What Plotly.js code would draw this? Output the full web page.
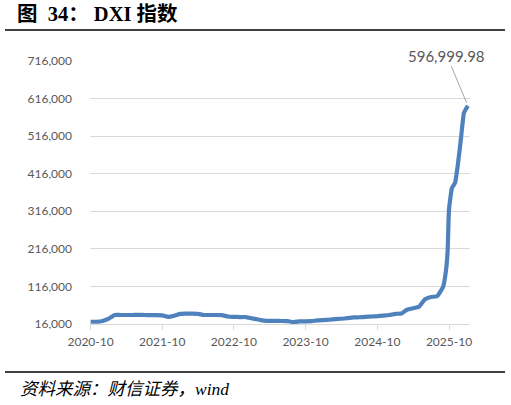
<!DOCTYPE html>
<html>
<head>
<meta charset="utf-8">
<script src="https://cdn.plot.ly/plotly-3.0.1.min.js"></script>
<style>html,body{margin:0;padding:0;background:#fff;}#chart{width:511px;height:405px;}</style>
</head>
<body>
<div id="chart"></div>
<script>
const dates = [
  "2020-10-01","2020-11-01","2020-12-01","2021-01-01","2021-02-01","2021-03-01","2021-04-01","2021-05-01",
  "2021-06-01","2021-07-01","2021-08-01","2021-09-01","2021-10-01","2021-11-01","2021-12-01","2022-01-01",
  "2022-02-01","2022-03-01","2022-04-01","2022-05-01","2022-06-01","2022-07-01","2022-08-01","2022-09-01",
  "2022-10-01","2022-11-01","2022-12-01","2023-01-01","2023-02-01","2023-03-01","2023-04-01","2023-05-01",
  "2023-06-01","2023-07-01","2023-08-01","2023-09-01","2023-10-01","2023-11-01","2023-12-01","2024-01-01",
  "2024-02-01","2024-03-01","2024-04-01","2024-05-01","2024-06-01","2024-07-01","2024-08-01","2024-09-01",
  "2024-10-01","2024-11-01","2024-12-01","2025-01-01","2025-02-01","2025-03-01","2025-04-01","2025-05-01",
  "2025-06-01","2025-07-01","2025-08-01","2025-09-01","2025-09-16","2025-09-24","2025-10-01","2025-10-16",
  "2025-11-01","2025-11-16","2025-12-01","2025-12-16","2025-12-26","2026-01-05"
];
const dxi = [
  22000,22000,24000,30000,40000,40000,40000,40000,
  40500,40000,39500,39500,39000,35000,38000,43000,
  43500,43500,43000,40000,40000,40000,39500,36000,
  35000,34500,34500,31000,28000,25000,24500,24500,
  24000,23500,21000,23000,23000,23500,25500,26500,
  27500,29000,30000,31500,33500,34000,35000,36000,
  37000,38500,40000,43000,44000,54000,58000,62000,
  82000,88000,90000,115000,160000,210000,320000,378000,
  392000,444000,510000,578000,588000,596999.98
];
const tickDates = ["2020-10-01","2021-10-01","2022-10-01","2023-10-01","2024-10-01","2025-10-01"];
const tickLabels = ["2020-10","2021-10","2022-10","2023-10","2024-10","2025-10"];
const yTicks = [16000,116000,216000,316000,416000,516000,616000,716000];
const titleText = "图&nbsp;&nbsp;34：&nbsp;DXI 指数";
const sourceText = "资料来源：财信证券，wind";
const lastLabel = "596,999.98";

const W = 511, H = 405, L = 90, R = 41, T = 61, B = 81;
const pw = W - L - R, ph = H - T - B;
const px = x => (x - L) / pw;
const py = y => (H - B - y) / ph;

const trace = {
  x: dates, y: dxi, type: "scatter", mode: "lines",
  line: {color: "#4F81BD", width: 4.2, shape: "spline", smoothing: 0.4},
  hoverinfo: "none"
};

const layout = {
  width: W, height: H,
  margin: {l: L, r: R, t: T, b: B},
  paper_bgcolor: "#fff", plot_bgcolor: "#fff",
  showlegend: false,
  font: {family: "Lato, 'Liberation Sans', 'Noto Sans CJK SC', sans-serif", color: "#595959", size: 12},
  xaxis: {
    type: "date",
    range: ["2020-09-28", "2026-01-16"],
    tickvals: tickDates, ticktext: tickLabels,
    showgrid: false, zeroline: false,
    showline: true, linecolor: "#d9d9d9", linewidth: 1,
    ticks: "outside", ticklen: 5, tickcolor: "#d9d9d9",
    ticklabelstandoff: 2,
    tickfont: {size: 12, color: "#595959"}
  },
  yaxis: {
    range: [16000, 716000],
    tickvals: yTicks, tickformat: ",.0f",
    showgrid: true, gridcolor: "#d9d9d9", gridwidth: 1,
    zeroline: false, showline: false, ticks: "",
    ticklabelstandoff: 17,
    tickfont: {size: 12, color: "#595959"}
  },
  shapes: [
    {type: "line", xref: "paper", yref: "paper", x0: px(5), x1: px(505), y0: py(30), y1: py(30),
     line: {color: "#000", width: 1.5}},
    {type: "line", xref: "paper", yref: "paper", x0: px(5), x1: px(505), y0: py(372), y1: py(372),
     line: {color: "#000", width: 1.5}}
  ],
  annotations: [
    {xref: "paper", yref: "paper", x: px(15), y: py(14), xanchor: "left", yanchor: "middle",
     text: "<b>" + titleText + "</b>", showarrow: false,
     font: {family: "'Liberation Serif', 'Noto Sans CJK SC', serif", size: 20.5, color: "#000"}},
    {xref: "paper", yref: "paper", x: px(18), y: py(389), xanchor: "left", yanchor: "middle",
     text: "<i>" + sourceText + "</i>", showarrow: false,
     font: {family: "'Liberation Serif', 'Noto Sans CJK SC', serif", size: 17.5, color: "#000"}},
    {x: dates[dates.length - 1], y: dxi[dxi.length - 1], xref: "x", yref: "y",
     text: lastLabel, showarrow: true, arrowhead: 0, arrowwidth: 1, arrowcolor: "#a6a6a6",
     ax: -21, ay: -50, standoff: 3,
     font: {size: 15, color: "#595959"}}
  ]
};

Plotly.newPlot("chart", [trace], layout, {staticPlot: true, displayModeBar: false});
</script>
</body>
</html>
